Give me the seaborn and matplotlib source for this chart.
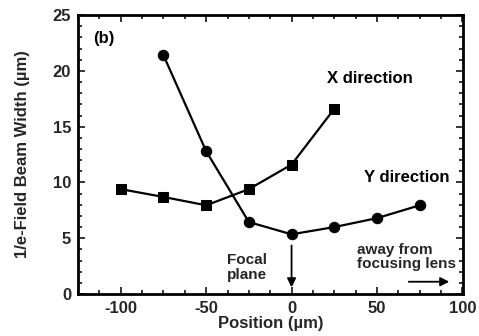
import matplotlib
matplotlib.use("Agg")
import matplotlib.pyplot as plt
import pandas as pd
import seaborn as sns
from matplotlib.ticker import MultipleLocator

# data
x_pos = [-100, -75, -50, -25, 0, 25]
x_width = [9.4, 8.7, 7.95, 9.4, 11.6, 16.6]
y_pos = [-75, -50, -25, 0, 25, 50, 75]
y_width = [21.4, 12.8, 6.45, 5.35, 6.0, 6.8, 7.95]

sns.set_theme(style="ticks")
plt.rcParams["font.family"] = ["Liberation Sans", "DejaVu Sans"]
plt.rcParams["font.weight"] = "bold"
plt.rcParams["axes.unicode_minus"] = False

fig = plt.figure(figsize=(4.79, 3.36), dpi=100)
ax = fig.add_axes([0.163, 0.125, 0.804, 0.830])

dx = pd.DataFrame({"pos": x_pos, "width": x_width})
dy = pd.DataFrame({"pos": y_pos, "width": y_width})
sns.lineplot(data=dx, x="pos", y="width", ax=ax, color="black", lw=1.6,
             marker="s", markersize=7, markeredgecolor="black")
sns.lineplot(data=dy, x="pos", y="width", ax=ax, color="black", lw=1.6,
             marker="o", markersize=7.5, markeredgecolor="black")

ax.set_xlim(-125, 100.5)
ax.set_ylim(0, 25)
ax.xaxis.set_major_locator(MultipleLocator(50))
ax.xaxis.set_minor_locator(MultipleLocator(12.5))
ax.yaxis.set_major_locator(MultipleLocator(5))
ax.yaxis.set_minor_locator(MultipleLocator(1))
ax.tick_params(which="both", direction="in", top=True, right=True,
               width=1.3, labelsize=12, pad=5)
ax.tick_params(which="major", length=5)
ax.tick_params(which="minor", length=3)
for s in ax.spines.values():
    s.set_linewidth(2)
    s.set_color("black")

ax.set_xlabel("Position (\u00b5m)", fontsize=12, fontweight="bold", labelpad=0)
ax.set_ylabel("1/e-Field Beam Width (\u00b5m)", fontsize=12, fontweight="bold", labelpad=16)

kw = dict(fontsize=12, fontweight="bold", color="black")
ax.text(-116, 22.9, "(b)", va="center", ha="left", **kw)
ax.text(21, 19.3, "X direction", va="center", ha="left", **kw)
ax.text(42.5, 10.4, "Y direction", va="center", ha="left", **kw)
ax.text(-38, 2.4, "Focal\nplane", va="center", ha="left", fontsize=11,
        fontweight="bold", linespacing=1.1)
ax.text(38.5, 3.3, "away from\nfocusing lens", va="center", ha="left",
        fontsize=11, fontweight="bold", linespacing=1.0)
ax.annotate("", xy=(0, 0.35), xytext=(0, 4.6),
            arrowprops=dict(arrowstyle="-|>", color="black", lw=1.3,
                            mutation_scale=13))
ax.annotate("", xy=(94, 1.1), xytext=(67, 1.1),
            arrowprops=dict(arrowstyle="-|>", color="black", lw=1.3,
                            mutation_scale=13))

fig.savefig("out.png", dpi=100)
